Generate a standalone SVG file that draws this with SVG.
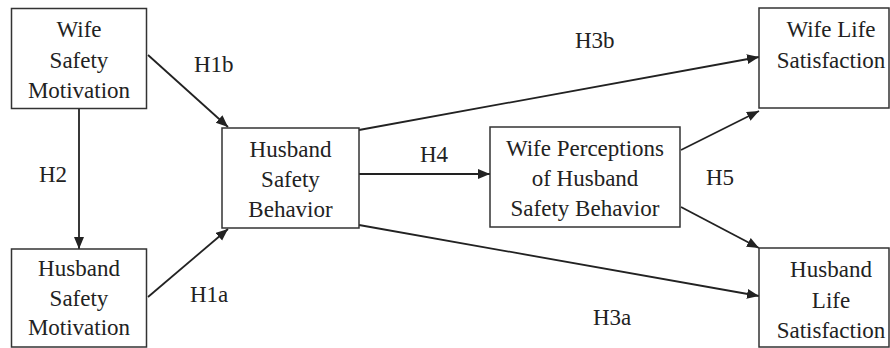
<svg xmlns="http://www.w3.org/2000/svg" width="890" height="348" viewBox="0 0 890 348">
<style>
.box{fill:#fff;stroke:#333;stroke-width:1.5}
.t{font-family:'Liberation Serif','DejaVu Serif',serif;font-size:23px;fill:#222;text-anchor:middle}
.lbl{font-family:'Liberation Serif','DejaVu Serif',serif;font-size:23px;fill:#222}
.c{fill:none;stroke:#222;stroke-width:1.8;marker-end:url(#ah)}
</style>
<defs>
<marker id="ah" markerUnits="userSpaceOnUse" markerWidth="13" markerHeight="11" refX="12" refY="5" orient="auto">
<path d="M0,0 L12,5 L0,10 z" fill="#222"/>
</marker>
</defs>
<rect width="890" height="348" fill="#fff"/>
<g id="connectors">
<path class="c" d="M79,109 L79,249"/>
<path class="c" d="M148,55 L228,127"/>
<path class="c" d="M148,297 L228,229"/>
<path class="c" d="M359,174 L490,174"/>
<path class="c" d="M359,130 L759,57"/>
<path class="c" d="M359,225 L759,296"/>
<path class="c" d="M681,150 L759,111"/>
<path class="c" d="M681,207 L759,248"/>
</g>
<g id="labels">
<text class="lbl" x="194" y="72">H1b</text>
<text class="lbl" x="39" y="182">H2</text>
<text class="lbl" x="190" y="302">H1a</text>
<text class="lbl" x="420" y="162">H4</text>
<text class="lbl" x="575" y="48">H3b</text>
<text class="lbl" x="593" y="325">H3a</text>
<text class="lbl" x="706" y="185">H5</text>
</g>
<g id="wife-safety-motivation">
<rect class="box" x="11.5" y="8.5" width="135" height="100"/>
<text class="t" x="79" y="37">Wife</text>
<text class="t" x="79" y="68">Safety</text>
<text class="t" x="79" y="98">Motivation</text>
</g>
<g id="husband-safety-motivation">
<rect class="box" x="11.5" y="249" width="135" height="98"/>
<text class="t" x="79" y="276">Husband</text>
<text class="t" x="79" y="306">Safety</text>
<text class="t" x="79" y="335">Motivation</text>
</g>
<g id="husband-safety-behavior">
<rect class="box" x="222" y="128" width="137" height="100"/>
<text class="t" x="290.5" y="157">Husband</text>
<text class="t" x="290.5" y="187">Safety</text>
<text class="t" x="290.5" y="217">Behavior</text>
</g>
<g id="wife-perceptions">
<rect class="box" x="490" y="127" width="190" height="100"/>
<text class="t" x="585" y="156">Wife Perceptions</text>
<text class="t" x="585" y="186">of Husband</text>
<text class="t" x="585" y="216">Safety Behavior</text>
</g>
<g id="wife-life-satisfaction">
<rect class="box" x="759" y="8" width="130" height="100"/>
<text class="t" x="831" y="37">Wife Life</text>
<text class="t" x="831" y="68">Satisfaction</text>
</g>
<g id="husband-life-satisfaction">
<rect class="box" x="759" y="248" width="130" height="99"/>
<text class="t" x="831" y="277">Husband</text>
<text class="t" x="831" y="308">Life</text>
<text class="t" x="831" y="338">Satisfaction</text>
</g>
</svg>
